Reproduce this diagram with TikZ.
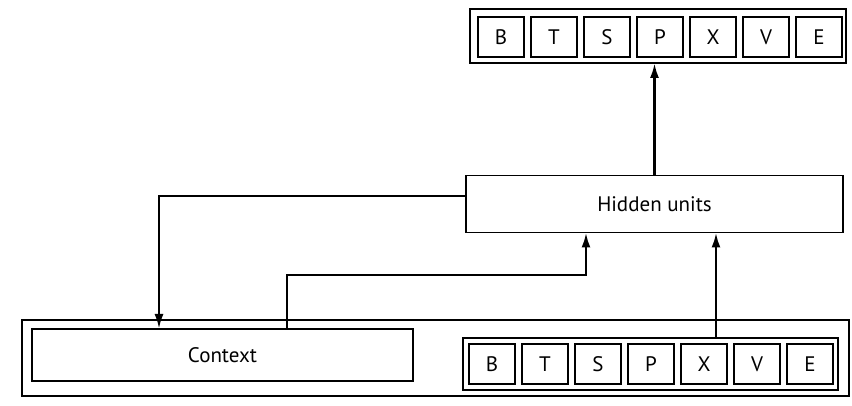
\documentclass[tikz,border=0pt]{standalone}
\usepackage{fontspec}
\setmainfont{PT Sans}
\usetikzlibrary{arrows.meta,calc}
\begin{document}
\begin{tikzpicture}[x=1pt,y=-1pt,
  frame/.style={draw,line width=1.6pt,inner sep=0pt,outer sep=0pt},
  label/.style={font=\fontsize{21}{21}\selectfont},
  cell/.style={frame,label,minimum width=46pt,minimum height=40pt},
  wire/.style={line width=2.6pt},
  flow/.style={wire,-{Latex[length=15pt,width=9pt]}}]
\useasboundingbox (0,0) rectangle (852,406);

% output layer
\node[frame,minimum width=376pt,minimum height=54pt] (out) at (658,36) {};
\foreach \l [count=\i from 0] in {B,T,S,P,X,V,E}
  \node[cell] (o\i) at (501+53*\i,37) {\l};

% hidden layer
\node[frame,label,minimum width=377pt,minimum height=57pt] (hid) at (654.5,204) {Hidden units};

% input layer frame with context and input units
\node[frame,minimum width=827pt,minimum height=76pt] (inp) at (435.5,358) {};
\node[frame,label,minimum width=381pt,minimum height=52pt] (ctx) at (222.5,355) {Context};
\node[frame,minimum width=375pt,minimum height=52pt] (vec) at (650.5,364) {};
\foreach \l [count=\i from 0] in {B,T,S,P,X,V,E}
  \node[cell] (u\i) at (492+53*\i,364) {\l};

% hidden to output
\draw[flow] (hid.north) -- (hid.north |- out.south);
% hidden copied into context
\coordinate (cbend) at (159,196);
\draw[flow] (hid.west |- cbend) -- (cbend) -- (cbend |- ctx.north);
% context back to hidden
\coordinate (c1) at (287,275);
\coordinate (c2) at (586,275);
\draw[flow] (c1 |- ctx.north) -- (c1) -- (c2) -- (c2 |- hid.south);
% input units to hidden
\draw[flow] (716,0 |- vec.north) -- (716,0 |- hid.south);
\end{tikzpicture}
\end{document}
